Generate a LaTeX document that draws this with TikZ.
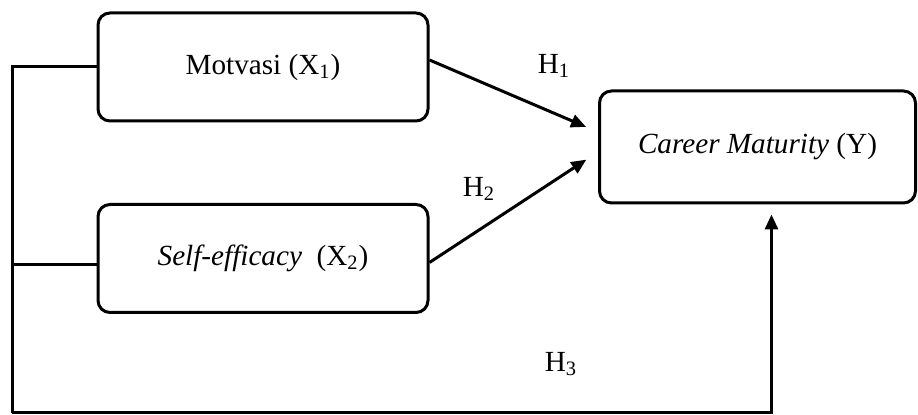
\documentclass[tikz,border=0pt]{standalone}
\usepackage{fontspec}
\setmainfont{Liberation Serif}[ItalicFont={Liberation Serif Italic}]
\usetikzlibrary{arrows.meta, positioning}
\definecolor{lineBlack}{HTML}{000000}

\begin{document}
\begin{tikzpicture}[x=0.5pt, y=-0.5pt, line width=1.5pt,
    varbox/.style={draw=lineBlack, rounded corners=6pt, minimum width=165pt, minimum height=54pt, font=\fontsize{14.6}{17}\selectfont},
    hlabel/.style={font=\fontsize{14.6}{17}\selectfont},
    arr/.style={-{Triangle[length=7.5pt, width=6.5pt]}}]
        \useasboundingbox (0,0) rectangle (918,415);

        % Variables
        \node[varbox] (motiv) at (263, 67) {Motvasi (X\textsubscript{1})};
        \node[varbox] (selfeff) at (263, 258.5) {\textit{Self-efficacy}\ \ (X\textsubscript{2})};
        \node[varbox, minimum width=158pt, minimum height=56pt] (career) at (757.5, 147) {\textit{Career Maturity} (Y)};

        % Hypothesis labels
        \node[hlabel] (h1) at (554, 66) {H\textsubscript{1}};
        \node[hlabel] (h2) at (479, 189) {H\textsubscript{2}};
        \node[hlabel] (h3) at (561, 364) {H\textsubscript{3}};

        % Direct paths
        \draw[arr, shorten >=6.5pt] ([yshift=3.5pt]motiv.east) -- ([yshift=7.5pt]career.west);
        \draw[arr, shorten >=7pt] ([yshift=-2pt]selfeff.east) -- ([yshift=-2.5pt]career.west);

        % Joint path
        \coordinate (jtop) at (12, 67);
        \coordinate (jbot) at (12, 413);
        \coordinate (jmid) at ([yshift=-3pt]selfeff.west);
        \draw (motiv.west) -- (jtop) -- (jbot);
        \draw (jmid) -- (jtop |- jmid);
        \draw[arr, shorten >=5pt] (jbot) -| ([xshift=7pt]career.south);
\end{tikzpicture}
\end{document}
